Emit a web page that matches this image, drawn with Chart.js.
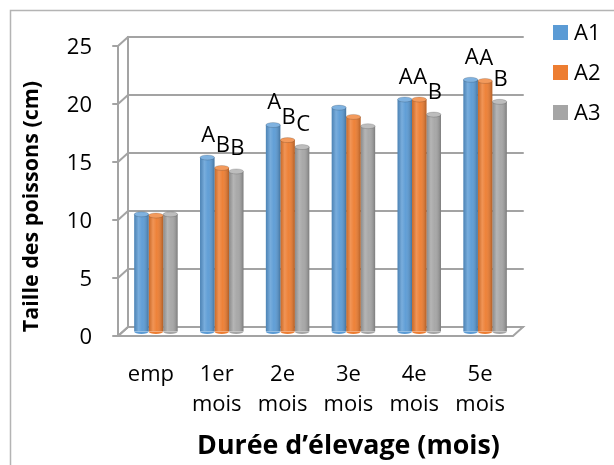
<!DOCTYPE html>
<html>
<head>
<meta charset="utf-8">
<script src="https://cdn.jsdelivr.net/npm/chart.js@4.4.1/dist/chart.umd.min.js"></script>
<style>
  html, body { margin: 0; padding: 0; background: #fff; }
  canvas { display: block; }
</style>
</head>
<body>
<canvas id="chart" width="614" height="465"></canvas>
<script>
// data
const categories = [['emp'], ['1er', 'mois'], ['2e', 'mois'], ['3e', 'mois'], ['4e', 'mois'], ['5e', 'mois']];
const seriesNames = ['A1', 'A2', 'A3'];
const a1 = [10.1, 15.0, 17.8, 19.3, 20.0, 21.7];
const a2 = [10.0, 14.1, 16.5, 18.5, 20.0, 21.6];
const a3 = [10.1, 13.8, 15.9, 17.7, 18.7, 19.8];
const lettersA1 = ['', 'A', 'A', '', 'A', 'A'];
const lettersA2 = ['', 'B', 'B', '', 'A', 'A'];
const lettersA3 = ['', 'B', 'C', '', 'B', 'B'];
const yTicks = [0, 5, 10, 15, 20, 25];

const colors = ['#5B9BD5', '#ED7D31', '#A5A5A5'];
const capColors = ['#7fb2e0', '#f39a5c', '#bdbdbd'];
const letters = [lettersA1, lettersA2, lettersA3];
const frameColor = '#a3a3a3';
const textFont = '"Open Sans", "Noto Sans", sans-serif';
// half depth of the 3d box
const dx = 5;
const dy = 4.6;

const frame = {
  id: 'frame',
  beforeDatasetsDraw(chart) {
    const ctx = chart.ctx;
    const y = chart.scales.y;
    const L = chart.chartArea.left;
    const R = chart.chartArea.right;
    ctx.save();
    // outer border
    ctx.strokeStyle = '#b4b4b4';
    ctx.lineWidth = 1.5;
    ctx.strokeRect(10.5, 10.5, 640, 500);

    ctx.strokeStyle = frameColor;
    ctx.lineWidth = 2;
    ctx.lineCap = 'round';
    const y0 = y.getPixelForValue(0);
    const yTop = y.getPixelForValue(25);
    // floor
    ctx.beginPath();
    ctx.moveTo(L - dx, y0 + dy);
    ctx.lineTo(R - dx, y0 + dy);
    ctx.lineTo(R + dx, y0 - dy);
    ctx.lineTo(L + dx, y0 - dy);
    ctx.closePath();
    ctx.stroke();
    // back wall lines
    yTicks.forEach(v => {
      const py = y.getPixelForValue(v);
      ctx.beginPath();
      ctx.moveTo(L + dx, py - dy);
      ctx.lineTo(R + dx, py - dy);
      ctx.stroke();
      // side wall connector and tick
      ctx.beginPath();
      ctx.moveTo(L - dx - 5, py + dy);
      ctx.lineTo(L - dx, py + dy);
      ctx.lineTo(L + dx, py - dy);
      ctx.stroke();
    });
    ctx.beginPath();
    ctx.moveTo(L + dx, yTop - dy);
    ctx.lineTo(L + dx, y0 - dy);
    ctx.stroke();
    // front axis
    ctx.beginPath();
    ctx.moveTo(L - dx, yTop + dy);
    ctx.lineTo(L - dx, y0 + dy);
    ctx.stroke();
    ctx.restore();
  },
  afterDatasetsDraw(chart) {
    const ctx = chart.ctx;
    ctx.save();
    chart.data.datasets.forEach((ds, di) => {
      const meta = chart.getDatasetMeta(di);
      meta.data.forEach((bar, i) => {
        const w = bar.width;
        const left = bar.x - w / 2;
        const top = bar.y;
        const bottom = bar.base;
        // cylinder shading
        const g = ctx.createLinearGradient(left, 0, left + w, 0);
        g.addColorStop(0, 'rgba(0,0,0,0.15)');
        g.addColorStop(0.3, 'rgba(255,255,255,0.18)');
        g.addColorStop(0.55, 'rgba(255,255,255,0.04)');
        g.addColorStop(1, 'rgba(0,0,0,0.25)');
        ctx.fillStyle = g;
        ctx.fillRect(left, top, w, bottom - top);
        // bottom rounding
        ctx.fillStyle = colors[di];
        ctx.beginPath();
        ctx.ellipse(bar.x, bottom, w / 2, 2.5, 0, 0, Math.PI);
        ctx.fill();
        // top cap
        ctx.fillStyle = capColors[di];
        ctx.strokeStyle = 'rgba(0,0,0,0.15)';
        ctx.lineWidth = 1;
        ctx.beginPath();
        ctx.ellipse(bar.x, top, w / 2, 2.5, 0, 0, Math.PI * 2);
        ctx.fill();
        ctx.stroke();
        // significance letter
        const t = letters[di][i];
        if (t) {
          ctx.fillStyle = '#000';
          ctx.font = '22px ' + textFont;
          ctx.textAlign = 'center';
          ctx.textBaseline = 'alphabetic';
          ctx.fillText(t, bar.x + 1, top - 16);
        }
      });
    });
    ctx.restore();
  },
  afterDraw(chart) {
    const ctx = chart.ctx;
    const x = chart.scales.x;
    const y = chart.scales.y;
    const L = chart.chartArea.left;
    ctx.save();
    ctx.fillStyle = '#000';
    ctx.font = '22px ' + textFont;
    ctx.textBaseline = 'alphabetic';
    // y tick labels
    ctx.textAlign = 'right';
    yTicks.forEach(v => {
      ctx.fillText(String(v), L - dx - 26, y.getPixelForValue(v) + dy + 8);
    });
    // category labels
    ctx.textAlign = 'center';
    categories.forEach((lines, i) => {
      const px = x.getPixelForValue(i) - dx;
      lines.forEach((s, k) => ctx.fillText(s, px, 381 + k * 30));
    });
    // legend
    ctx.textAlign = 'left';
    seriesNames.forEach((s, i) => {
      const by = 40 + i * 40;
      ctx.fillStyle = colors[i];
      ctx.fillRect(553, by - 15, 15, 15);
      ctx.fillStyle = '#000';
      ctx.fillText(s, 574, by);
    });
    // axis titles
    ctx.font = 'bold 26.8px ' + textFont;
    ctx.textAlign = 'center';
    ctx.fillText('Durée d\u2019élevage (mois)', 348.5, 454);
    ctx.translate(38, 206.5);
    ctx.rotate(-Math.PI / 2);
    ctx.font = 'bold 21.5px ' + textFont;
    ctx.fillText('Taille des poissons (cm)', 0, 0);
    ctx.restore();
  }
};

new Chart(document.getElementById('chart'), {
  type: 'bar',
  data: {
    labels: categories,
    datasets: [
      { label: seriesNames[0], data: a1, backgroundColor: colors[0] },
      { label: seriesNames[1], data: a2, backgroundColor: colors[1] },
      { label: seriesNames[2], data: a3, backgroundColor: colors[2] }
    ]
  },
  options: {
    responsive: false,
    animation: false,
    devicePixelRatio: 1,
    layout: { padding: { left: 123, right: 96, top: 41.5, bottom: 133.5 } },
    datasets: { bar: { categoryPercentage: 0.66, barPercentage: 1.0, borderWidth: 0 } },
    plugins: { legend: { display: false }, tooltip: { enabled: false } },
    scales: {
      x: { display: false, offset: true },
      y: { display: false, min: 0, max: 25 }
    }
  },
  plugins: [frame]
});
</script>
</body>
</html>
